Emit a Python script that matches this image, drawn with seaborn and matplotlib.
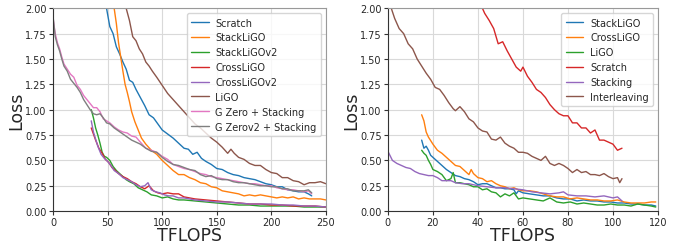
import numpy as np
import pandas as pd
import seaborn as sns
import matplotlib
matplotlib.use("Agg")
import matplotlib.pyplot as plt

# ---------------- left panel data ---------------- #
scratch_x = [46, 49, 52, 55, 58, 61, 64, 67, 70, 73, 76, 80, 84, 88, 92, 96, 100, 105, 110, 115,
             120, 124, 128, 132, 136, 140, 145, 150, 155, 160, 165, 170, 175, 180, 185, 190, 195, 200, 205, 210,
             215, 220, 225, 230, 234, 237]
scratch_y = [2.20, 2.00, 1.82, 1.75, 1.62, 1.55, 1.47, 1.40, 1.29, 1.27, 1.20, 1.12, 1.04, 0.95, 0.92, 0.86, 0.80, 0.76, 0.72, 0.67,
             0.62, 0.61, 0.56, 0.58, 0.52, 0.49, 0.46, 0.42, 0.41, 0.38, 0.36, 0.35, 0.33, 0.32, 0.31, 0.29, 0.27, 0.26, 0.24, 0.24,
             0.21, 0.20, 0.19, 0.19, 0.17, 0.15]

stackligo_x = [54, 56, 58, 60, 62, 64, 66, 68, 70, 72, 75, 78, 81, 85, 90, 95, 100, 105, 110, 115,
               120, 125, 130, 135, 140, 145, 150, 155, 160, 165, 170, 175, 180, 185, 190, 195, 200, 205, 210, 215,
               220, 225, 230, 235, 240, 245, 250]
stackligo_y = [2.2, 2.0, 1.85, 1.66, 1.52, 1.38, 1.25, 1.17, 1.08, 0.98, 0.88, 0.80, 0.72, 0.66, 0.60, 0.56, 0.50, 0.45, 0.40, 0.36,
               0.36, 0.33, 0.31, 0.28, 0.27, 0.24, 0.23, 0.20, 0.19, 0.18, 0.17, 0.15, 0.16, 0.15, 0.16, 0.15, 0.14, 0.13, 0.14, 0.13,
               0.14, 0.12, 0.13, 0.12, 0.12, 0.12, 0.11]

stackligov2_x = [35, 37, 39, 41, 43, 45, 47, 49, 52, 55, 58, 61, 64, 67, 70, 74, 78, 82, 86, 90,
                 95, 100, 105, 110, 115, 120, 130, 140, 150, 160, 170, 180, 190, 200, 210, 220, 230, 240, 250]
stackligov2_y = [1.00, 0.92, 0.82, 0.75, 0.67, 0.58, 0.54, 0.53, 0.50, 0.44, 0.40, 0.37, 0.34, 0.31, 0.29, 0.27, 0.23, 0.21, 0.19, 0.16,
                 0.15, 0.13, 0.14, 0.12, 0.11, 0.11, 0.10, 0.09, 0.08, 0.07, 0.06, 0.06, 0.05, 0.05, 0.05, 0.05, 0.04, 0.04, 0.04]

crossligo_x = [35, 37, 39, 42, 45, 48, 51, 54, 57, 60, 64, 68, 72, 76, 80, 84, 88, 92, 96, 100,
               105, 110, 115, 120, 125, 130, 140, 150, 160, 170, 180, 190, 200, 210, 220, 230, 240, 250]
crossligo_y = [0.82, 0.76, 0.70, 0.62, 0.57, 0.51, 0.48, 0.43, 0.40, 0.37, 0.34, 0.32, 0.29, 0.27, 0.24, 0.22, 0.25, 0.20, 0.18, 0.17,
               0.18, 0.17, 0.17, 0.14, 0.13, 0.12, 0.11, 0.10, 0.09, 0.08, 0.07, 0.07, 0.06, 0.06, 0.05, 0.05, 0.05, 0.04]

crossligov2_x = [35, 37, 39, 41, 44, 47, 50, 53, 56, 60, 64, 68, 72, 76, 80, 84, 87, 90, 94, 98,
                 102, 106, 110, 115, 120, 125, 130, 140, 150, 160, 170, 180, 190, 200, 210, 220, 230, 240, 250]
crossligov2_y = [0.89, 0.78, 0.71, 0.64, 0.56, 0.52, 0.49, 0.45, 0.40, 0.37, 0.33, 0.31, 0.29, 0.26, 0.24, 0.25, 0.28, 0.21, 0.19, 0.18,
                 0.16, 0.15, 0.15, 0.13, 0.13, 0.12, 0.11, 0.10, 0.09, 0.09, 0.08, 0.07, 0.07, 0.07, 0.06, 0.06, 0.05, 0.05, 0.04]

ligo_x = [65, 67, 70, 73, 76, 79, 82, 85, 88, 91, 95, 100, 105, 110, 115, 120, 125, 130, 135, 140,
          145, 150, 155, 160, 163, 166, 170, 175, 180, 185, 190, 195, 200, 205, 210, 215, 220, 225, 230, 235,
          240, 245, 250]
ligo_y = [2.10, 2.00, 1.88, 1.72, 1.68, 1.60, 1.55, 1.47, 1.43, 1.38, 1.32, 1.24, 1.16, 1.10, 1.04, 0.98, 0.92, 0.86, 0.82, 0.77,
          0.72, 0.68, 0.63, 0.57, 0.61, 0.57, 0.53, 0.51, 0.47, 0.45, 0.45, 0.41, 0.38, 0.37, 0.33, 0.33, 0.30, 0.29, 0.26, 0.28,
          0.28, 0.29, 0.27]

gzero_x = [0, 2, 4, 6, 8, 10, 13, 16, 19, 22, 25, 28, 31, 34, 37, 40, 43, 46, 49, 52,
           56, 60, 64, 68, 72, 76, 80, 85, 90, 95, 100, 105, 110, 115, 120, 125, 130, 135, 140, 145,
           150, 155, 160, 165, 170, 175, 180, 185, 190, 195, 200, 205, 210, 215, 220, 225, 230, 234, 237]
gzero_y = [1.90, 1.75, 1.66, 1.60, 1.52, 1.45, 1.40, 1.35, 1.32, 1.24, 1.20, 1.14, 1.10, 1.06, 1.02, 1.02, 0.98, 0.91, 0.89, 0.87,
           0.83, 0.80, 0.78, 0.77, 0.74, 0.73, 0.68, 0.62, 0.60, 0.58, 0.54, 0.51, 0.46, 0.44, 0.42, 0.41, 0.39, 0.37, 0.36, 0.34,
           0.33, 0.32, 0.31, 0.30, 0.29, 0.28, 0.27, 0.27, 0.26, 0.25, 0.25, 0.23, 0.22, 0.21, 0.21, 0.20, 0.19, 0.20, 0.17]

gzerov2_x = [0, 2, 4, 6, 8, 10, 13, 16, 19, 22, 25, 28, 31, 34, 37, 40, 43, 46, 49, 52,
             56, 60, 64, 68, 72, 76, 80, 85, 90, 95, 100, 105, 110, 115, 120, 125, 130, 135, 140, 145,
             150, 155, 160, 165, 170, 175, 180, 185, 190, 195, 200, 205, 210, 215, 220, 225, 230, 234, 237]
gzerov2_y = [1.92, 1.72, 1.64, 1.58, 1.50, 1.43, 1.38, 1.30, 1.26, 1.22, 1.17, 1.10, 1.05, 1.00, 0.96, 0.95, 0.96, 0.92, 0.87, 0.86,
             0.82, 0.79, 0.76, 0.73, 0.70, 0.68, 0.66, 0.62, 0.59, 0.58, 0.53, 0.49, 0.46, 0.45, 0.43, 0.41, 0.40, 0.36, 0.34, 0.35,
             0.32, 0.31, 0.31, 0.29, 0.28, 0.28, 0.27, 0.26, 0.25, 0.25, 0.24, 0.24, 0.22, 0.22, 0.20, 0.20, 0.20, 0.21, 0.18]

left_labels = ["Scratch", "StackLiGO", "StackLiGOv2", "CrossLiGO", "CrossLiGOv2",
               "LiGO", "G Zero + Stacking", "G Zerov2 + Stacking"]

# ---------------- right panel data ---------------- #
r_stackligo_x = [15, 16, 17, 18, 19, 20, 22, 24, 26, 28, 30, 32, 34, 36, 38, 40, 42, 44, 46, 48,
                 50, 52, 54, 56, 57, 58, 60, 63, 66, 69, 72, 75, 78, 81, 84, 87, 90, 93, 96, 99,
                 102, 105, 108, 111, 114, 117, 119]
r_stackligo_y = [0.70, 0.62, 0.64, 0.60, 0.55, 0.53, 0.49, 0.45, 0.41, 0.38, 0.35, 0.34, 0.32, 0.31, 0.29, 0.26, 0.27, 0.27, 0.25, 0.23,
                 0.23, 0.22, 0.22, 0.21, 0.17, 0.20, 0.18, 0.17, 0.16, 0.15, 0.15, 0.13, 0.12, 0.12, 0.10, 0.11, 0.10, 0.10, 0.09, 0.09,
                 0.08, 0.08, 0.07, 0.07, 0.06, 0.06, 0.05]

r_crossligo_x = [15, 16, 17, 18, 20, 22, 24, 26, 28, 30, 32, 34, 36, 37, 38, 40, 42, 44, 46, 48,
                 50, 52, 54, 56, 58, 60, 63, 66, 69, 72, 75, 78, 81, 84, 87, 90, 93, 96, 99, 102,
                 105, 108, 111, 114, 117, 119]
r_crossligo_y = [0.95, 0.89, 0.78, 0.73, 0.66, 0.60, 0.57, 0.53, 0.49, 0.45, 0.44, 0.40, 0.36, 0.41, 0.37, 0.33, 0.32, 0.29, 0.30, 0.27,
                 0.25, 0.24, 0.22, 0.23, 0.21, 0.20, 0.20, 0.19, 0.17, 0.15, 0.14, 0.14, 0.12, 0.13, 0.12, 0.11, 0.11, 0.10, 0.10, 0.11,
                 0.09, 0.08, 0.08, 0.08, 0.09, 0.09]

r_ligo_x = [15, 16, 17, 18, 19, 20, 22, 24, 26, 28, 29, 30, 32, 34, 36, 38, 40, 42, 44, 46,
            48, 50, 52, 54, 56, 58, 60, 63, 66, 69, 72, 75, 78, 81, 84, 87, 90, 93, 96, 99,
            102, 105, 108, 111, 114, 117, 119]
r_ligo_y = [0.60, 0.57, 0.55, 0.50, 0.46, 0.41, 0.39, 0.36, 0.30, 0.32, 0.38, 0.28, 0.28, 0.27, 0.26, 0.24, 0.24, 0.21, 0.22, 0.19,
            0.18, 0.14, 0.17, 0.15, 0.18, 0.12, 0.13, 0.12, 0.11, 0.10, 0.13, 0.09, 0.08, 0.09, 0.07, 0.08, 0.07, 0.06, 0.06, 0.07,
            0.06, 0.06, 0.05, 0.07, 0.06, 0.05, 0.04]

r_scratch_x = [41, 43, 45, 47, 49, 51, 53, 55, 57, 59, 60, 62, 64, 66, 68, 70, 72, 74, 76, 78,
               80, 82, 84, 86, 88, 90, 92, 94, 96, 98, 100, 102, 104]
r_scratch_y = [2.05, 1.95, 1.88, 1.80, 1.65, 1.67, 1.58, 1.50, 1.42, 1.38, 1.42, 1.33, 1.27, 1.20, 1.17, 1.12, 1.05, 1.00, 0.96, 0.94,
               0.94, 0.87, 0.87, 0.82, 0.82, 0.77, 0.80, 0.70, 0.70, 0.68, 0.66, 0.60, 0.62]

r_stacking_x = [0, 2, 4, 6, 8, 10, 12, 14, 16, 18, 20, 22, 24, 26, 28, 30, 33, 36, 40, 44,
                48, 52, 56, 60, 64, 68, 72, 76, 78, 80, 84, 88, 92, 96, 100, 102, 104]
r_stacking_y = [0.59, 0.50, 0.47, 0.45, 0.43, 0.42, 0.39, 0.37, 0.36, 0.35, 0.35, 0.33, 0.30, 0.30, 0.30, 0.28, 0.27, 0.27, 0.25, 0.24,
                0.23, 0.23, 0.22, 0.21, 0.19, 0.18, 0.17, 0.18, 0.19, 0.16, 0.15, 0.15, 0.14, 0.15, 0.13, 0.14, 0.10]

r_interleaving_x = [1.5, 3, 5, 7, 9, 11, 13, 15, 17, 19, 21, 23, 25, 27, 29, 30, 32, 34, 36, 38,
                    40, 42, 44, 46, 48, 50, 52, 54, 56, 58, 60, 62, 64, 66, 68, 70, 72, 74, 76, 78,
                    80, 82, 84, 86, 88, 90, 92, 94, 96, 98, 100, 102, 103, 104]
r_interleaving_y = [2.00, 1.90, 1.80, 1.75, 1.65, 1.60, 1.50, 1.43, 1.36, 1.30, 1.22, 1.20, 1.14, 1.07, 1.01, 0.99, 1.03, 0.98, 0.91, 0.88,
                    0.82, 0.79, 0.78, 0.71, 0.70, 0.73, 0.67, 0.64, 0.62, 0.58, 0.58, 0.57, 0.54, 0.52, 0.50, 0.54, 0.47, 0.45, 0.47, 0.45,
                    0.42, 0.38, 0.41, 0.38, 0.39, 0.36, 0.36, 0.35, 0.37, 0.34, 0.32, 0.33, 0.28, 0.32]

right_labels = ["StackLiGO", "CrossLiGO", "LiGO", "Scratch", "Stacking", "Interleaving"]


def long_form(series, labels):
    frames = []
    for (xs, ys), name in zip(series, labels):
        frames.append(pd.DataFrame({"TFLOPS": xs, "Loss": ys, "method": name}))
    return pd.concat(frames, ignore_index=True)


left_df = long_form([(scratch_x, scratch_y), (stackligo_x, stackligo_y), (stackligov2_x, stackligov2_y),
                     (crossligo_x, crossligo_y), (crossligov2_x, crossligov2_y), (ligo_x, ligo_y),
                     (gzero_x, gzero_y), (gzerov2_x, gzerov2_y)], left_labels)
right_df = long_form([(r_stackligo_x, r_stackligo_y), (r_crossligo_x, r_crossligo_y), (r_ligo_x, r_ligo_y),
                      (r_scratch_x, r_scratch_y), (r_stacking_x, r_stacking_y),
                      (r_interleaving_x, r_interleaving_y)], right_labels)

sns.set_style("whitegrid", {"grid.color": "0.85", "xtick.bottom": True, "ytick.left": True,
                            "axes.edgecolor": "0.6"})
plt.rcParams['font.family'] = ['DejaVu Sans']

fig = plt.figure(figsize=(6.89, 2.51), dpi=100)
ax1 = fig.add_axes([0.077, 0.155, 0.396, 0.808])
ax2 = fig.add_axes([0.563, 0.155, 0.392, 0.808])

palette = sns.color_palette("tab10")


def draw(ax, df, labels, xmax, xticks):
    sns.lineplot(data=df, x="TFLOPS", y="Loss", hue="method", hue_order=labels,
                 palette=palette[:len(labels)], sort=False, estimator=None,
                 linewidth=1.0, ax=ax)
    ax.set_xlim(0, xmax)
    ax.set_ylim(0, 2)
    ax.set_xticks(xticks)
    ax.set_yticks(np.arange(0, 2.01, 0.25))
    ax.set_yticklabels([f"{v:.2f}" for v in np.arange(0, 2.01, 0.25)])
    ax.tick_params(labelsize=7, length=3, width=0.8, color="0.2", pad=1.5)
    ax.set_xlabel("TFLOPS", fontsize=12.5, labelpad=-1)
    ax.set_ylabel("Loss", fontsize=12.5, labelpad=0)
    for side in ["left", "bottom"]:
        ax.spines[side].set_color("0.2")
    for side in ["top", "right"]:
        ax.spines[side].set_color("0.6")
    leg = ax.legend(loc="upper right", fontsize=7, frameon=True, handlelength=1.8,
                    labelspacing=0.5, borderpad=0.45, handletextpad=0.7, fancybox=True,
                    borderaxespad=0.5)
    leg.get_frame().set_edgecolor("0.8")


draw(ax1, left_df, left_labels, 250, [0, 50, 100, 150, 200, 250])
draw(ax2, right_df, right_labels, 120, [0, 20, 40, 60, 80, 100, 120])

fig.savefig("out.png", dpi=100)
